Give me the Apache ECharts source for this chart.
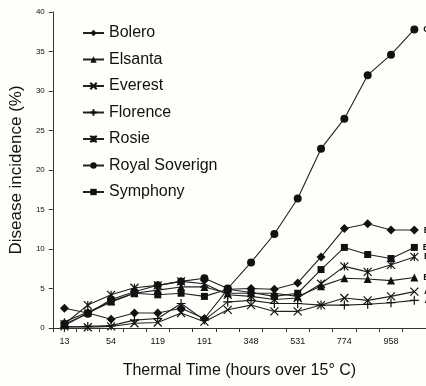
<!DOCTYPE html>
<html><head><meta charset="utf-8">
<script src="https://cdn.jsdelivr.net/npm/echarts@6/dist/echarts.min.js"></script>
<style>html,body{margin:0;padding:0;background:#fffefa}#c{width:426px;height:386px}</style>
</head><body><div id="c"></div>
<script>
var categories = ['13','30','54','85','119','155','191','260','348','440','531','650','774','866','958','1050'];
var bolero   = [2.5,1.9,1.1,1.9,1.9,2.5,1.2,4.9,5.0,4.9,5.7,9.0,12.6,13.2,12.4,12.4];
var elsanta  = [0.8,2.0,3.4,4.4,4.8,5.2,5.2,4.4,4.4,4.4,4.0,5.3,6.3,6.2,6.0,6.4];
var everest  = [0.2,0.1,0.2,0.6,0.7,1.9,0.8,2.3,2.9,2.1,2.1,2.9,3.8,3.5,4.0,4.6];
var florence = [0.1,0.2,0.3,1.0,1.2,3.1,1.0,3.3,3.5,3.1,3.1,2.9,2.9,3.0,3.2,3.5];
var rosie    = [0.5,2.9,4.2,5.1,5.4,5.9,5.6,4.2,4.0,3.6,3.8,5.6,7.8,7.1,8.0,9.0];
var royal    = [0.5,1.8,3.6,4.6,5.4,5.9,6.3,5.0,8.3,11.9,16.4,22.7,26.5,32.0,34.6,37.8];
var symphony = [0.3,1.9,3.3,4.4,4.2,4.4,4.0,4.9,4.5,4.0,4.4,7.4,10.2,9.3,8.8,10.2];
var seriesNames = ['Bolero','Elsanta','Everest','Florence','Rosie','Royal Soverign','Symphony'];
var endLetters = ['B','B','A','A','B','C','B'];
var yTicks = {min:0, max:40, interval:5};

var dataList = [bolero, elsanta, everest, florence, rosie, royal, symphony];
var symbols = ['diamond','triangle','path://M0,0L10,10M10,0L0,10','path://M5,0L5,10M0,5L10,5','path://M0,0L10,10M10,0L0,10M5,0L5,10','circle','rect'];
var sizes = [9,8,8,9,8,8,7];
var font = 'Liberation Sans, Arial, sans-serif';

var series = seriesNames.map(function(n,i){
  var d = dataList[i].map(function(v,j){
    if (j === dataList[i].length-1) {
      return {value:v, label:{show:true, formatter:endLetters[i], position:'right', distance:5,
        fontSize:9, fontWeight:'bold', color:'#111', fontFamily:font}};
    }
    return v;
  });
  return {
    name:n, type:'line', data:d, symbol:symbols[i], symbolSize:sizes[i],
    showAllSymbol:true, clip:false,
    lineStyle:{color:'#222', width:1.1},
    itemStyle:{color:'#111', borderColor:'#111', borderWidth:(i===2||i===3||i===4)?1.2:0},
    emphasis:{disabled:true}, animation:false
  };
});

var chart = echarts.init(document.getElementById('c'));
chart.setOption({
  backgroundColor:'#fffefa',
  animation:false,
  grid:{left:52, right:0, top:12, bottom:58},
  legend:{
    orient:'vertical', left:77, top:20, itemGap:10.5, itemWidth:21, itemHeight:8,
    textStyle:{fontSize:16, color:'#111', fontFamily:font},
    data:seriesNames
  },
  xAxis:{
    type:'category', data:categories, boundaryGap:true,
    name:'Thermal Time (hours over 15\u00B0 C)', nameLocation:'middle', nameGap:35,
    nameTextStyle:{fontSize:16, color:'#111', fontFamily:font},
    axisLine:{lineStyle:{color:'#333', width:1}},
    axisTick:{show:true, interval:0, alignWithLabel:false, length:4, lineStyle:{color:'#333'}},
    axisLabel:{interval:1, fontSize:9, color:'#111', margin:9, fontFamily:font},
    splitLine:{show:false}
  },
  yAxis:{
    type:'value', min:yTicks.min, max:yTicks.max, interval:yTicks.interval,
    name:'Disease incidence (%)', nameLocation:'middle', nameGap:19,
    nameTextStyle:{fontSize:17, color:'#111', fontFamily:font},
    axisLine:{show:true, lineStyle:{color:'#333', width:1}},
    axisTick:{show:true, length:4, lineStyle:{color:'#333'}},
    axisLabel:{fontSize:8, color:'#111', margin:8, fontFamily:font},
    splitLine:{show:false}
  },
  series:series
});
</script></body></html>
